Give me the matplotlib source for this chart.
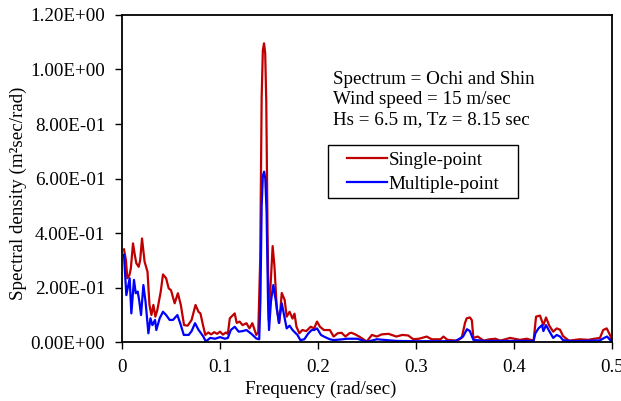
import numpy as np
import matplotlib
matplotlib.use("Agg")
import matplotlib.pyplot as plt
from matplotlib.patches import Rectangle

plt.rcParams['font.family'] = ['Liberation Serif', 'DejaVu Serif']

# ============================================================
# data
# ============================================================
freq_single = [0.0020, 0.0040, 0.0054, 0.0075, 0.0090, 0.0112, 0.0130, 0.0146, 0.0170, 0.0185,
               0.0204, 0.0230, 0.0260, 0.0280, 0.0300, 0.0320, 0.0340, 0.0360, 0.0395, 0.0418,
               0.0450, 0.0476, 0.0500, 0.0537, 0.0570, 0.0600, 0.0633, 0.0670, 0.0710, 0.0750,
               0.0780, 0.0800, 0.0830, 0.0850, 0.0880, 0.0910, 0.0940, 0.0970, 0.1000, 0.1030,
               0.1060, 0.1080, 0.1100, 0.1150, 0.1170, 0.1200, 0.1230, 0.1270, 0.1300, 0.1330,
               0.1370, 0.1390, 0.1410, 0.1425, 0.1437, 0.1449, 0.1461, 0.1472, 0.1485, 0.1497,
               0.1515, 0.1537, 0.1555, 0.1580, 0.1605, 0.1630, 0.1660, 0.1680, 0.1710, 0.1740,
               0.1760, 0.1780, 0.1810, 0.1840, 0.1880, 0.1925, 0.1960, 0.1990, 0.2020, 0.2060,
               0.2120, 0.2160, 0.2200, 0.2240, 0.2280, 0.2320, 0.2340, 0.2380, 0.2420, 0.2497,
               0.2550, 0.2600, 0.2650, 0.2720, 0.2800, 0.2860, 0.2920, 0.2973, 0.3030, 0.3110,
               0.3160, 0.3250, 0.3280, 0.3320, 0.3420, 0.3466, 0.3500, 0.3517, 0.3550, 0.3570,
               0.3585, 0.3630, 0.3690, 0.3750, 0.3810, 0.3860, 0.3960, 0.4060, 0.4130, 0.4200,
               0.4225, 0.4265, 0.4300, 0.4327, 0.4360, 0.4400, 0.4436, 0.4470, 0.4500, 0.4560,
               0.4670, 0.4760, 0.4820, 0.4877, 0.4910, 0.4946, 0.4980, 0.5000]
single = [0.340, 0.300, 0.234, 0.245, 0.270, 0.362, 0.320, 0.289, 0.276, 0.300,
          0.380, 0.295, 0.258, 0.136, 0.099, 0.136, 0.093, 0.117, 0.185, 0.248,
          0.234, 0.197, 0.190, 0.142, 0.179, 0.136, 0.062, 0.060, 0.081, 0.136,
          0.111, 0.105, 0.056, 0.026, 0.035, 0.028, 0.036, 0.030, 0.038, 0.027,
          0.035, 0.030, 0.087, 0.105, 0.070, 0.075, 0.062, 0.069, 0.050, 0.069,
          0.026, 0.035, 0.300, 0.900, 1.070, 1.096, 1.060, 0.880, 0.400, 0.080,
          0.200, 0.352, 0.280, 0.120, 0.070, 0.180, 0.154, 0.093, 0.111, 0.086,
          0.104, 0.056, 0.032, 0.044, 0.040, 0.056, 0.050, 0.075, 0.056, 0.044,
          0.044, 0.020, 0.032, 0.034, 0.020, 0.032, 0.034, 0.028, 0.020, 0.002,
          0.026, 0.020, 0.028, 0.030, 0.020, 0.026, 0.024, 0.010, 0.012, 0.020,
          0.010, 0.010, 0.020, 0.008, 0.005, 0.015, 0.070, 0.087, 0.090, 0.080,
          0.015, 0.020, 0.005, 0.010, 0.012, 0.005, 0.015, 0.008, 0.012, 0.005,
          0.093, 0.097, 0.062, 0.090, 0.060, 0.038, 0.050, 0.045, 0.022, 0.005,
          0.010, 0.008, 0.012, 0.015, 0.044, 0.050, 0.025, 0.005]

freq_multi = [0.0020, 0.0044, 0.0078, 0.0095, 0.0122, 0.0140, 0.0160, 0.0177, 0.0194, 0.0218,
              0.0240, 0.0269, 0.0290, 0.0310, 0.0337, 0.0350, 0.0384, 0.0418, 0.0450, 0.0486,
              0.0520, 0.0565, 0.0600, 0.0630, 0.0680, 0.0710, 0.0745, 0.0780, 0.0830, 0.0855,
              0.0900, 0.0950, 0.1000, 0.1050, 0.1080, 0.1110, 0.1150, 0.1190, 0.1230, 0.1270,
              0.1320, 0.1370, 0.1400, 0.1412, 0.1425, 0.1437, 0.1450, 0.1462, 0.1475, 0.1490,
              0.1500, 0.1520, 0.1544, 0.1570, 0.1600, 0.1630, 0.1660, 0.1680, 0.1710, 0.1740,
              0.1790, 0.1820, 0.1860, 0.1900, 0.1935, 0.1960, 0.1990, 0.2030, 0.2060, 0.2120,
              0.2160, 0.2250, 0.2300, 0.2400, 0.2500, 0.2600, 0.2700, 0.2800, 0.3000, 0.3200,
              0.3400, 0.3480, 0.3520, 0.3550, 0.3585, 0.3700, 0.3900, 0.4100, 0.4200, 0.4218,
              0.4250, 0.4286, 0.4300, 0.4327, 0.4360, 0.4400, 0.4436, 0.4470, 0.4500, 0.4600,
              0.4800, 0.4877, 0.4920, 0.4950, 0.4990]
multi = [0.320, 0.172, 0.234, 0.105, 0.228, 0.179, 0.185, 0.148, 0.099, 0.209,
         0.148, 0.032, 0.087, 0.062, 0.081, 0.044, 0.087, 0.111, 0.099, 0.081,
         0.081, 0.099, 0.062, 0.026, 0.026, 0.040, 0.069, 0.045, 0.020, 0.002,
         0.015, 0.012, 0.018, 0.012, 0.015, 0.044, 0.056, 0.038, 0.040, 0.044,
         0.030, 0.013, 0.010, 0.150, 0.500, 0.610, 0.625, 0.600, 0.480, 0.150,
         0.044, 0.150, 0.209, 0.150, 0.070, 0.142, 0.087, 0.050, 0.060, 0.044,
         0.026, 0.007, 0.010, 0.031, 0.044, 0.044, 0.050, 0.026, 0.020, 0.010,
         0.007, 0.010, 0.012, 0.012, 0.001, 0.010, 0.007, 0.004, 0.003, 0.003,
         0.003, 0.020, 0.047, 0.040, 0.008, 0.004, 0.004, 0.004, 0.004, 0.032,
         0.050, 0.062, 0.040, 0.062, 0.040, 0.015, 0.026, 0.020, 0.007, 0.003,
         0.005, 0.006, 0.015, 0.020, 0.004]

x_ticks = [0, 0.1, 0.2, 0.3, 0.4, 0.5]
x_tick_labels = ["0", "0.1", "0.2", "0.3", "0.4", "0.5"]
y_ticks = [0.0, 0.2, 0.4, 0.6, 0.8, 1.0, 1.2]
y_tick_labels = ["0.00E+00", "2.00E-01", "4.00E-01", "6.00E-01", "8.00E-01", "1.00E+00", "1.20E+00"]

info_lines = ["Spectrum = Ochi and Shin", "Wind speed = 15 m/sec", "Hs = 6.5 m, Tz = 8.15 sec"]

fs = 13.7

# ============================================================
# plot
# ============================================================
fig = plt.figure(figsize=(6.21, 4.01), dpi=100)
ax = fig.add_axes([0.1965, 0.1471, 0.789, 0.8155])

ax.plot(freq_single, single, color="#C00000", linewidth=1.6, label="Single-point")
ax.plot(freq_multi, multi, color="#0000FF", linewidth=1.6, label="Multiple-point")

ax.set_xlim(0, 0.5)
ax.set_ylim(0, 1.2)
ax.set_xticks(x_ticks)
ax.set_xticklabels(x_tick_labels)
ax.set_yticks(y_ticks)
ax.set_yticklabels(y_tick_labels)
ax.tick_params(direction="out", length=5, width=1, labelsize=fs, colors="black")
ax.tick_params(axis="x", pad=7.5)
ax.tick_params(axis="y", pad=7)

for s in ax.spines.values():
    s.set_linewidth(1.3)
    s.set_color("black")

ax.set_xlabel("Frequency (rad/sec)", fontsize=fs, va="center")
ax.xaxis.set_label_coords(0.406, -0.144)
ax.set_ylabel("Spectral density (m²sec/rad)", fontsize=fs, va="center")
ax.yaxis.set_label_coords(-0.212, 0.456)

ax.text(0.43, 0.83, "\n".join(info_lines), transform=ax.transAxes,
        fontsize=fs, va="top", ha="left", linespacing=1.24)

# legend box (Excel style, line handle inset from frame)
ax.add_patch(Rectangle((0.420, 0.440), 0.388, 0.162, transform=ax.transAxes,
                       fill=False, edgecolor="black", linewidth=1.0, zorder=5))
leg = ax.legend(loc="center left", bbox_to_anchor=(0.459, 0.519), fontsize=fs,
                frameon=False, handlelength=2.1, handletextpad=0.1,
                borderpad=0, labelspacing=0.36, borderaxespad=0)

plt.savefig("out.png", dpi=100)
